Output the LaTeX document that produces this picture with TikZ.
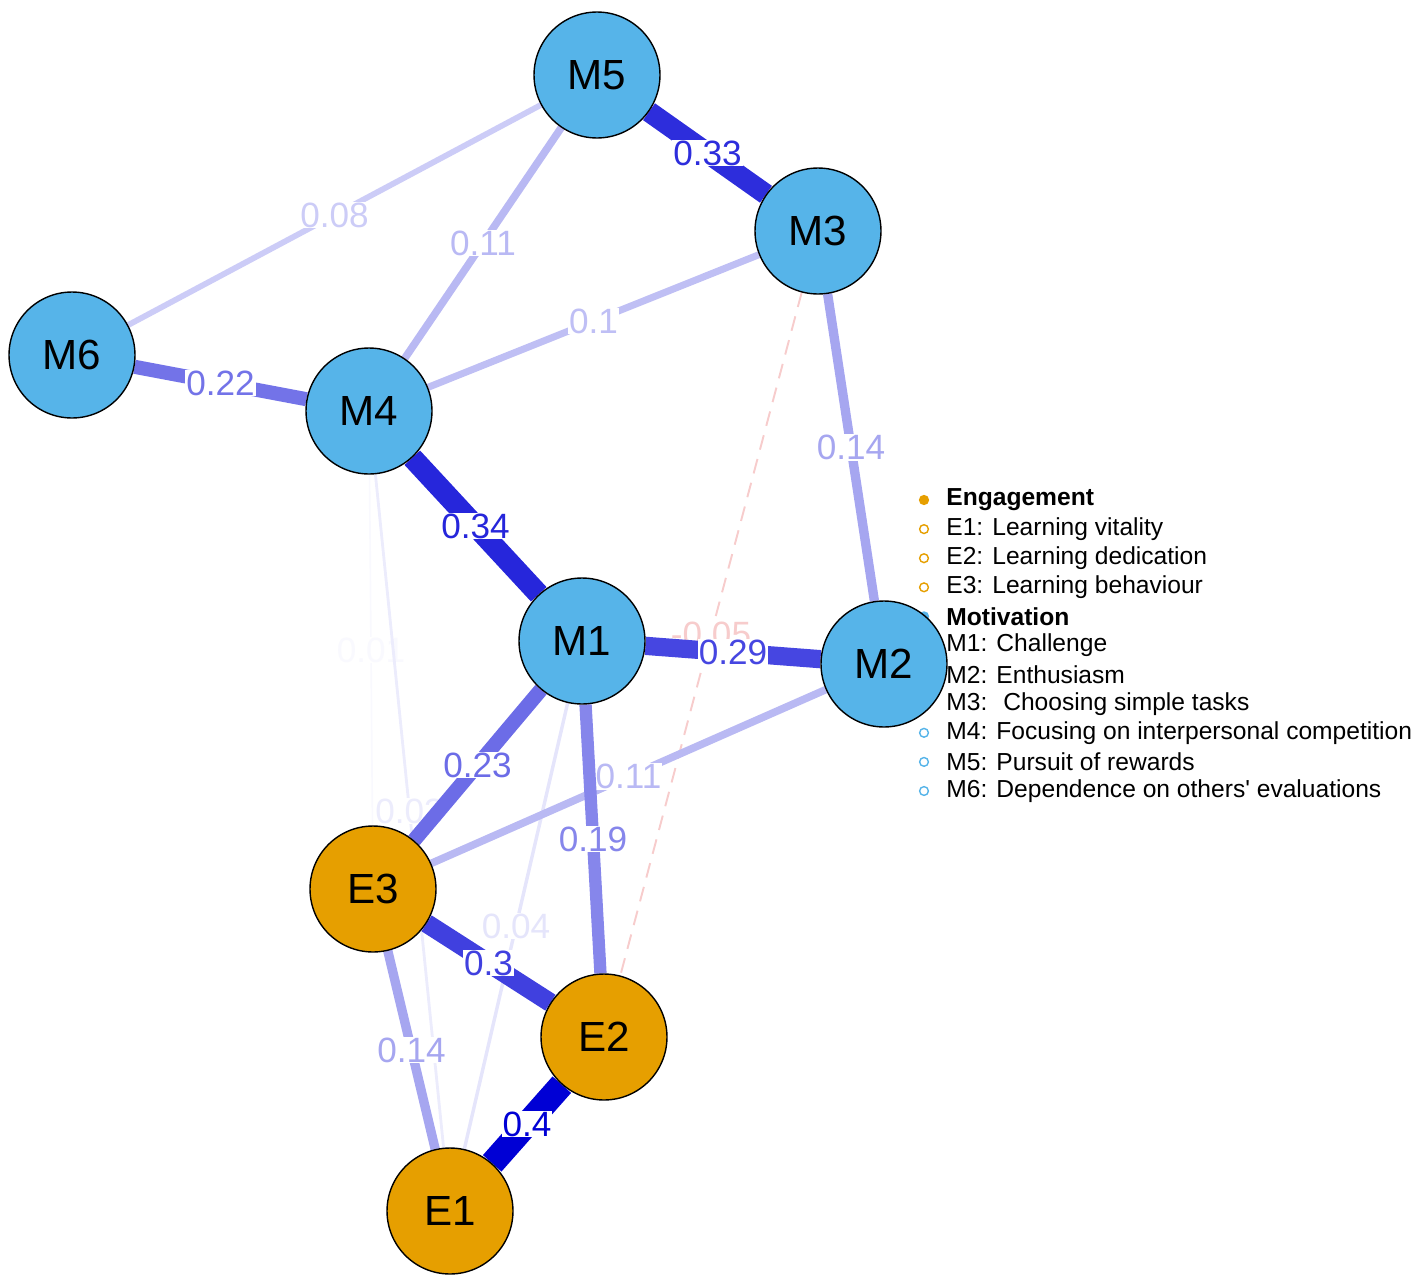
\documentclass[tikz,border=0pt]{standalone}
\usepackage{fontspec}
\setmainfont{Liberation Sans}
\usetikzlibrary{backgrounds}
\definecolor{motblue}{HTML}{56B4E9}
\definecolor{engorange}{HTML}{E69F00}
\definecolor{edgeblue}{HTML}{0000D5}
\definecolor{edgered}{HTML}{D50000}
\tikzset{
  var/.style={circle, draw=black, line width=0.8pt, minimum size=2.52cm, inner sep=0pt, font=\fontsize{24}{24}\selectfont},
  mot/.style={var, fill=motblue},
  eng/.style={var, fill=engorange},
  posedge/.style={color=edgeblue!#1!white, line width={0.6pt+0.135pt*#1}},
  negedge/.style={color=edgered!#1!white, line width=1.1pt, dash pattern=on 8.5pt off 5.5pt},
  elab/.style={fill=white, inner sep=0.5pt, font=\fontsize{20}{20}\selectfont},
  legdot/.style={circle, line width=0.8pt, minimum size=5pt, inner sep=0pt},
  legtext/.style={anchor=west, inner sep=0pt, font=\fontsize{14}{14}\selectfont}
}
\begin{document}
\begin{tikzpicture}[x=0.02cm, y=-0.02cm]
  \useasboundingbox (0,0) rectangle (1417,1285);
  % legend
  \foreach \txt/\col/\mk [count=\i from 0] in {
      {\textbf{Engagement}}/engorange/engorange,
      {E1: Learning vitality}/engorange/white,
      {E2: Learning dedication}/engorange/white,
      {E3: Learning behaviour}/engorange/white,
      {\textbf{Motivation}}/motblue/motblue,
      {M1: Challenge}/motblue/white,
      {M2: Enthusiasm}/motblue/white,
      {M3: \ Choosing simple tasks}/motblue/white,
      {M4: Focusing on interpersonal competition}/motblue/white,
      {M5: Pursuit of rewards}/motblue/white,
      {M6: Dependence on others\textquotesingle\ evaluations}/motblue/white} {
    \node[legdot, draw=\col, fill=\mk] (d\i) at (924,{500+29.1*\i}) {};
    \node[legtext] (t\i) at (946,{500+29.1*\i}) {\txt};
  }
  % variables
  \node[mot] (M5) at (597,75) {M5};
  \node[mot] (M3) at (818,231) {M3};
  \node[mot] (M6) at (72,355) {M6};
  \node[mot] (M4) at (369,411) {M4};
  \node[mot] (M1) at (582,641) {M1};
  \node[mot] (M2) at (884,664) {M2};
  \node[eng] (E3) at (373,889) {E3};
  \node[eng] (E2) at (604,1037) {E2};
  \node[eng] (E1) at (450,1211) {E1};
  % edges, weakest first
  \begin{pgfonlayer}{background}
    \draw[posedge=2.5] (M4) -- node[elab] {0.01} (E3);
    \draw[posedge=7.5] (M4) -- node[elab] {0.03} (E1);
    \draw[posedge=10] (M1) -- node[elab] {0.04} (E1);
    \draw[negedge=20] (M3) -- node[elab] {-0.05} (E2);
    \draw[posedge=20] (M5) -- node[elab] {0.08} (M6);
    \draw[posedge=25] (M3) -- node[elab] {0.1} (M4);
    \draw[posedge=27.5] (M5) -- node[elab] {0.11} (M4);
    \draw[posedge=27.5] (M2) -- node[elab] {0.11} (E3);
    \draw[posedge=35] (M3) -- node[elab] {0.14} (M2);
    \draw[posedge=35] (E3) -- node[elab] {0.14} (E1);
    \draw[posedge=47.5] (M1) -- node[elab] {0.19} (E2);
    \draw[posedge=55] (M6) -- node[elab] {0.22} (M4);
    \draw[posedge=57.5] (M1) -- node[elab] {0.23} (E3);
    \draw[posedge=72.5] (M1) -- node[elab] {0.29} (M2);
    \draw[posedge=75] (E3) -- node[elab] {0.3} (E2);
    \draw[posedge=82.5] (M5) -- node[elab] {0.33} (M3);
    \draw[posedge=85] (M4) -- node[elab] {0.34} (M1);
    \draw[posedge=100] (E2) -- node[elab] {0.4} (E1);
  \end{pgfonlayer}
\end{tikzpicture}
\end{document}
